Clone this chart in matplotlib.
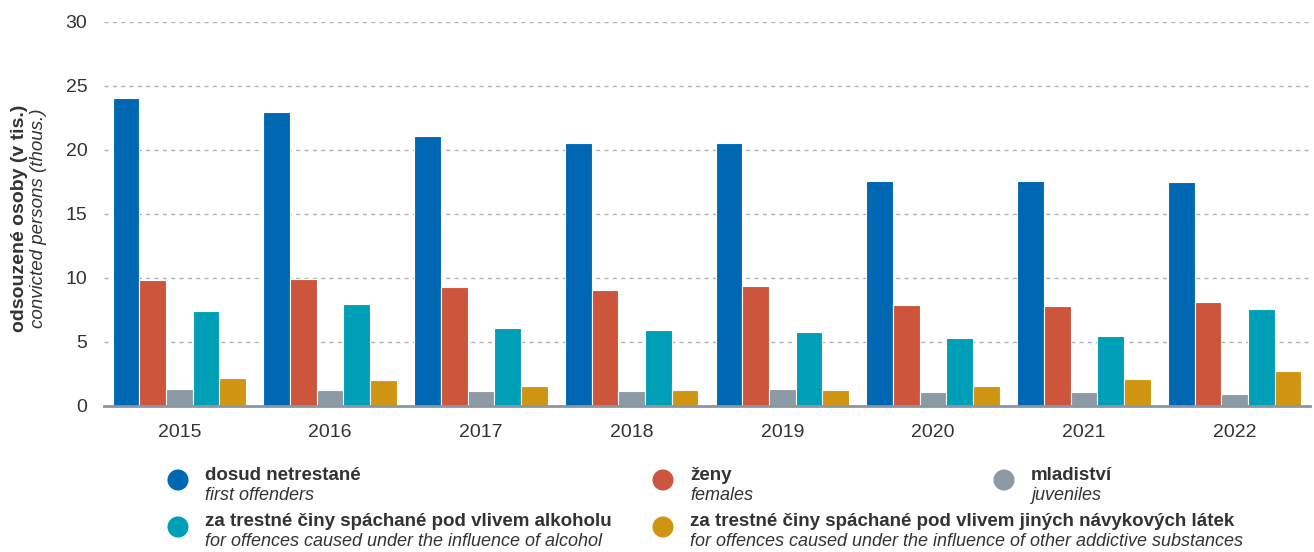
import numpy as np
import matplotlib.pyplot as plt

plt.rcParams['font.family'] = ['Liberation Sans', 'DejaVu Sans']

# Data (thousands of convicted persons)
years = ["2015", "2016", "2017", "2018", "2019", "2020", "2021", "2022"]
first_offenders = [24.1, 23.0, 21.1, 20.55, 20.55, 17.6, 17.6, 17.5]
females = [9.85, 9.9, 9.3, 9.1, 9.4, 7.9, 7.85, 8.15]
juveniles = [1.35, 1.25, 1.15, 1.2, 1.3, 1.07, 1.07, 0.97]
alcohol = [7.45, 8.0, 6.07, 5.95, 5.82, 5.32, 5.5, 7.6]
other_subst = [2.22, 2.05, 1.58, 1.22, 1.25, 1.55, 2.12, 2.77]

series = [first_offenders, females, juveniles, alcohol, other_subst]
colors = ["#0068b3", "#cd553c", "#8c9aa6", "#009fb8", "#d09613"]
labels_cz = ["dosud netrestané", "ženy", "mladiství",
             "za trestné činy spáchané pod vlivem alkoholu",
             "za trestné činy spáchané pod vlivem jiných návykových látek"]
labels_en = ["first offenders", "females", "juveniles",
             "for offences caused under the influence of alcohol",
             "for offences caused under the influence of other addictive substances"]

fig = plt.figure(figsize=(13.14, 5.52), dpi=100)
ax = fig.add_axes([104/1314, 146/552, 1206/1314, 384/552])

x = np.arange(len(years))
n = len(series)
bar_w = 0.177
for k, (vals, c) in enumerate(zip(series, colors)):
    ax.bar(x + (k - (n - 1) / 2) * bar_w, vals, width=bar_w, color=c,
           edgecolor="white", linewidth=0.8, zorder=3)

ax.set_xlim(-0.5, len(years) - 0.5)
ax.set_ylim(0, 30)
ax.set_yticks(range(0, 31, 5))
ax.set_xticks(x)
ax.set_xticklabels(years)
ax.tick_params(axis="both", length=0, labelsize=14, colors="#333333")
ax.tick_params(axis="y", pad=12)
ax.tick_params(axis="x", pad=13)
ax.grid(axis="y", color="#a9b5c1", linestyle=(0, (3, 3)), linewidth=1, zorder=0)
for s in ["top", "right", "left"]:
    ax.spines[s].set_visible(False)
ax.spines["bottom"].set_color("#8a96a3")
ax.spines["bottom"].set_linewidth(2)
ax.spines["bottom"].set_zorder(4)

# y axis title (two lines)
fig.text(20/1314, 1 - 218/552, "odsouzené osoby (v tis.)", rotation=90,
         fontsize=14, fontweight="bold", color="#333333", ha="center", va="center")
fig.text(39/1314, 1 - 218/552, "convicted persons (thous.)", rotation=90,
         fontsize=13.5, fontstyle="italic", color="#333333", ha="center", va="center")

# legend drawn in pixel coordinates
lg = fig.add_axes([0, 0, 1, 1], facecolor="none")
lg.set_xlim(0, 1314)
lg.set_ylim(552, 0)
lg.axis("off")
pos = [(178, 480), (663, 480), (1004, 480), (178, 527), (663, 527)]
for (px, py), c, cz, en in zip(pos, colors, labels_cz, labels_en):
    lg.scatter([px], [py], s=230, color=c, edgecolors="none")
    lg.text(px + 27, py - 5, cz, fontsize=13.5, fontweight="bold", color="#333333", va="center")
    lg.text(px + 27, py + 15, en, fontsize=13, fontstyle="italic", color="#333333", va="center")

plt.savefig("out.png", dpi=100)
